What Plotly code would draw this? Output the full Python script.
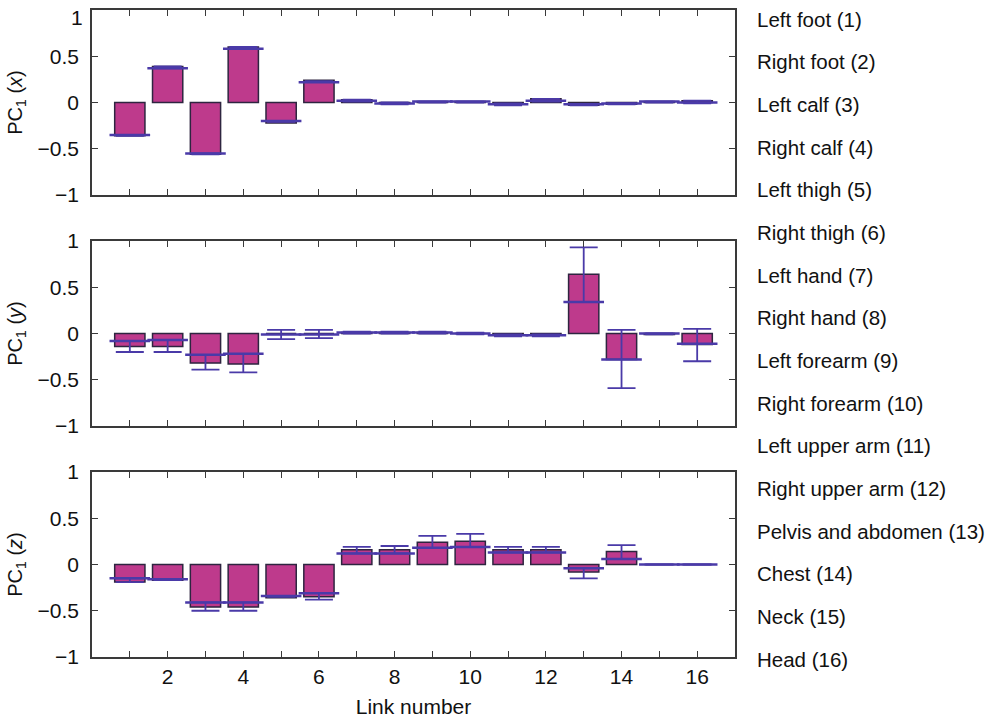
import plotly.graph_objects as go

links = list(range(1, 17))
link_names = ["Left foot (1)", "Right foot (2)", "Left calf (3)", "Right calf (4)",
              "Left thigh (5)", "Right thigh (6)", "Left hand (7)", "Right hand (8)",
              "Left forearm (9)", "Right forearm (10)", "Left upper arm (11)",
              "Right upper arm (12)", "Pelvis and abdomen (13)", "Chest (14)",
              "Neck (15)", "Head (16)"]

# PC1 (x)
x_val = [-0.36, 0.39, -0.56, 0.60, -0.22, 0.24, 0.03, -0.01, 0.01, 0.01, -0.02, 0.04, -0.03, -0.02, 0.01, 0.02]
x_mean = [-0.35, 0.37, -0.55, 0.58, -0.20, 0.22, 0.02, -0.01, 0.01, 0.01, -0.02, 0.02, -0.02, -0.01, 0.01, 0.0]
x_lo = [-0.36, 0.37, -0.56, 0.58, -0.21, 0.22, 0.01, -0.02, 0.0, 0.0, -0.03, 0.01, -0.03, -0.02, 0.0, -0.01]
x_hi = [-0.35, 0.39, -0.55, 0.60, -0.20, 0.23, 0.03, 0.0, 0.01, 0.01, -0.01, 0.04, -0.02, -0.01, 0.01, 0.02]

# PC1 (y)
y_val = [-0.14, -0.14, -0.32, -0.33, 0.0, 0.0, 0.01, 0.01, 0.01, 0.0, -0.02, -0.02, 0.64, -0.28, -0.01, -0.12]
y_mean = [-0.08, -0.07, -0.23, -0.22, -0.01, -0.01, 0.01, 0.01, 0.01, 0.0, -0.02, -0.02, 0.34, -0.28, 0.0, -0.11]
y_lo = [-0.20, -0.20, -0.39, -0.42, -0.06, -0.05, 0.0, 0.0, 0.0, -0.01, -0.03, -0.03, 0.34, -0.59, -0.01, -0.30]
y_hi = [-0.08, -0.07, -0.23, -0.22, 0.04, 0.04, 0.02, 0.02, 0.02, 0.01, -0.01, -0.01, 0.93, 0.04, 0.0, 0.05]

# PC1 (z)
z_val = [-0.19, -0.17, -0.46, -0.46, -0.36, -0.35, 0.16, 0.16, 0.24, 0.25, 0.16, 0.16, -0.08, 0.14, 0.0, 0.0]
z_mean = [-0.15, -0.16, -0.41, -0.41, -0.34, -0.31, 0.12, 0.12, 0.18, 0.19, 0.13, 0.13, -0.04, 0.06, 0.0, 0.0]
z_lo = [-0.19, -0.17, -0.50, -0.50, -0.35, -0.38, 0.12, 0.12, 0.18, 0.19, 0.13, 0.13, -0.15, 0.06, 0.0, 0.0]
z_hi = [-0.15, -0.16, -0.41, -0.41, -0.34, -0.31, 0.19, 0.20, 0.31, 0.33, 0.19, 0.19, -0.04, 0.21, 0.0, 0.0]

y_ticks = [-1, -0.5, 0, 0.5, 1]
y_ticktext = ["\u22121", "\u22120.5", "0", "0.5", "1"]
x_ticks = [2, 4, 6, 8, 10, 12, 14, 16]

FILL = "#BE3A8C"
EDGE = "#2E2540"
BLUE = "#4A3AA8"
AXC = "#3a3a3a"
TXT = "#111"
FONT = "Liberation Sans, Arial, sans-serif"
FS = 21

panels = [
    (x_val, x_mean, x_lo, x_hi, "PC<sub>1</sub> (<i>x</i>)", [0.714, 1.0]),
    (y_val, y_mean, y_lo, y_hi, "PC<sub>1</sub> (<i>y</i>)", [0.357, 0.643]),
    (z_val, z_mean, z_lo, z_hi, "PC<sub>1</sub> (<i>z</i>)", [0.0, 0.286]),
]

fig = go.Figure()
layout_axes = {}
for i, (val, mean, lo, hi, title, dom) in enumerate(panels):
    n = i + 1
    xa = "x" if n == 1 else f"x{n}"
    ya = "y" if n == 1 else f"y{n}"
    fig.add_trace(go.Bar(x=links, y=val, base=0, width=0.8, xaxis=xa, yaxis=ya,
                         marker=dict(color=FILL, line=dict(color=EDGE, width=1.5)),
                         showlegend=False, hoverinfo="skip"))
    fig.add_trace(go.Scatter(
        x=links, y=mean, mode="markers", xaxis=xa, yaxis=ya, showlegend=False,
        marker=dict(symbol="line-ew", size=29, color=BLUE, line=dict(color=BLUE, width=2.5)),
        error_y=dict(type="data", symmetric=False,
                     array=[h - m for h, m in zip(hi, mean)],
                     arrayminus=[m - l for m, l in zip(mean, lo)],
                     color=BLUE, thickness=1.8, width=14)))
    xkey = "xaxis" if n == 1 else f"xaxis{n}"
    ykey = "yaxis" if n == 1 else f"yaxis{n}"
    layout_axes[xkey] = dict(
        domain=[0, 1], anchor=ya, range=[0, 17], tickmode="array", automargin=False,
        tickvals=links, ticktext=[(str(v) if (n == 3 and v in x_ticks) else "") for v in links],
        ticks="inside", ticklen=6, tickwidth=1.2, tickcolor=AXC, ticklabelstandoff=0,
        showline=True, linecolor=AXC, linewidth=1.5, mirror="allticks",
        showgrid=False, zeroline=False, ticklabeloverflow="allow",
        tickfont=dict(size=FS, color=TXT, family=FONT))
    # top panel: its "1" label sits slightly lower (drawn as annotation below)
    ttext = y_ticktext[:-1] + [""] if n == 1 else y_ticktext
    layout_axes[ykey] = dict(
        domain=dom, anchor=xa, range=[-1, 1], tickmode="array", tickvals=y_ticks,
        automargin=False, ticklabeloverflow="allow",
        ticktext=ttext,
        ticks="inside", ticklen=6, tickwidth=1.2, tickcolor=AXC, ticklabelstandoff=7,
        showline=True, linecolor=AXC, linewidth=1.5, mirror="allticks",
        showgrid=False, zeroline=False,
        tickfont=dict(size=FS, color=TXT, family=FONT),
        title=dict(text=title, font=dict(size=20, color=TXT, family=FONT), standoff=10))

layout_axes["xaxis3"]["title"] = dict(text="Link number", font=dict(size=FS, color=TXT, family=FONT), standoff=12)

annotations = []
for k, name in enumerate(link_names):
    ypix = 19 + k * 42.67
    annotations.append(dict(
        text=name, xref="paper", yref="paper", x=(755 - 92) / 643, y=(657 - ypix) / 647,
        xanchor="left", yanchor="middle", showarrow=False,
        font=dict(size=20.5, color=TXT, family=FONT)))
annotations.append(dict(
    text=y_ticktext[-1], xref="paper", yref="y", x=0, y=y_ticks[-1], xanchor="right",
    yanchor="middle", xshift=-7, yshift=-7, showarrow=False,
    font=dict(size=FS, color=TXT, family=FONT)))

fig.update_layout(
    width=993, height=721, margin=dict(l=92, r=258, t=10, b=64),
    plot_bgcolor="white", paper_bgcolor="white", barmode="overlay",
    annotations=annotations, font=dict(family=FONT), **layout_axes)

fig.write_html("out.html", config={"displayModeBar": False},
               post_script="document.body.style.margin='0px';")
